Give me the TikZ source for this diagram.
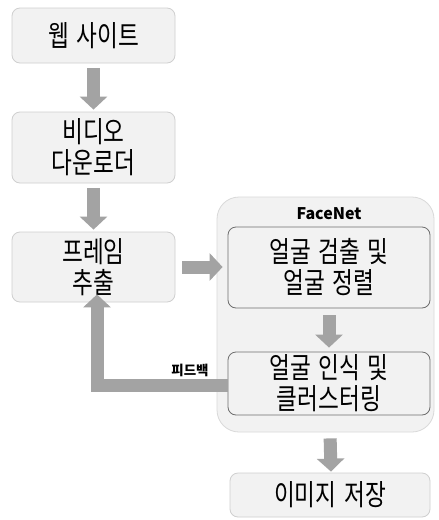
\documentclass[tikz,border=0pt]{standalone}
\usepackage{fontspec}
\setmainfont{Noto Sans CJK KR}
\newfontfamily\boxfont{Noto Sans CJK KR}[FakeStretch=0.78, WordSpace=1.5]
\usetikzlibrary{arrows.meta}
\definecolor{boxfill}{HTML}{F2F2F2}
\definecolor{boxline}{HTML}{CFCFCF}
\definecolor{innerline}{HTML}{6E6E6E}
\definecolor{arrowgray}{HTML}{A3A3A3}
\tikzset{
  box/.style={draw=boxline, fill=boxfill, line width=0.8pt, rounded corners=8pt,
    align=center, font=\boxfont\fontsize{29}{31}\selectfont, inner sep=0pt},
  innerbox/.style={box, draw=innerline},
  container/.style={draw=boxline!80, fill=boxfill, line width=0.8pt, rounded corners=22pt},
  blockarrow/.style={draw=arrowgray, line width=13pt,
    -{Triangle[width=27pt,length=13pt]}},
}
\begin{document}
\begin{tikzpicture}[x=1pt,y=-1pt]
\useasboundingbox[fill=white] (0,0) rectangle (439,520);
\node[container, minimum width=217pt, minimum height=235pt] (facenet) at (325.5,314.5) {};
\node[font=\bfseries\fontsize{16}{18}\selectfont] (fnlabel) at (329,214) {FaceNet};
\node[box, minimum width=163pt, minimum height=55pt] (web) at (93.5,35.5) {웹 사이트};
\node[box, minimum width=163pt, minimum height=71pt] (vid) at (93.5,147.5) {비디오\\다운로더};
\node[box, minimum width=163pt, minimum height=70pt] (frm) at (93.5,267) {프레임\\추출};
\node[innerbox, minimum width=202pt, minimum height=81pt] (det) at (329,267.5) {얼굴 검출 및\\얼굴 정렬};
\node[innerbox, minimum width=202pt, minimum height=63pt] (rec) at (329,383.5) {얼굴 인식 및\\클러스터링};
\node[box, minimum width=200pt, minimum height=44pt] (save) at (330,495) {이미지 저장};
\node[font=\bfseries\fontsize{13.5}{15}\selectfont] (fb) at (190,370.5) {피드백};
\coordinate (corner) at (97,385);
\draw[blockarrow, shorten <=5pt, shorten >=2pt] (web.south) -- (vid.north);
\draw[blockarrow, shorten <=5pt, shorten >=2pt] (vid.south) -- (frm.north);
\draw[blockarrow, shorten <=7pt, shorten >=5pt] (frm.east) -- (frm.east -| det.west);
\draw[blockarrow, shorten <=7pt, shorten >=4pt] (det.south) -- (rec.north);
\draw[blockarrow, shorten <=6pt, shorten >=1pt] ([xshift=1pt]rec.south |- facenet.south) -- ([xshift=1pt]save.north);
\draw[blockarrow, line join=miter] (rec.west |- corner) -- (corner) -- ([shift={(3.5pt,8pt)}]frm.south);
\end{tikzpicture}
\end{document}
